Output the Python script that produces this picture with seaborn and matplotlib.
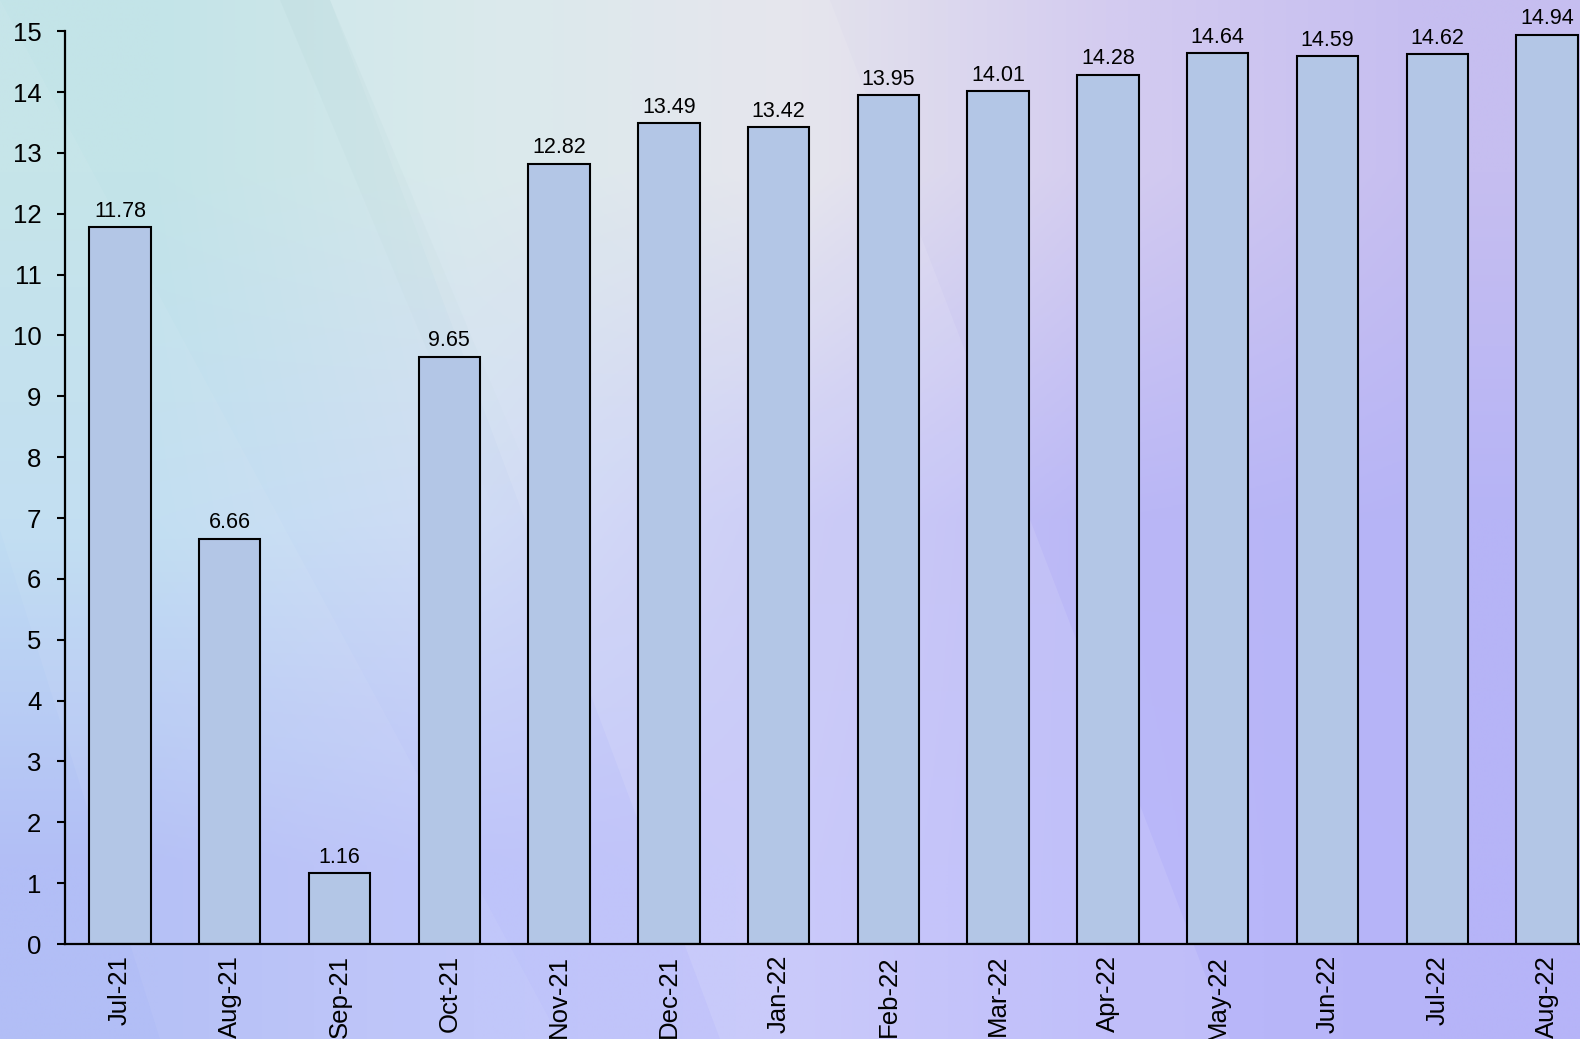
import numpy as np
import pandas as pd
import matplotlib
matplotlib.use("Agg")
import matplotlib.pyplot as plt
import seaborn as sns
from matplotlib.patches import Polygon

# Monthly values
months = ["Jul-21", "Aug-21", "Sep-21", "Oct-21", "Nov-21", "Dec-21", "Jan-22",
          "Feb-22", "Mar-22", "Apr-22", "May-22", "Jun-22", "Jul-22", "Aug-22"]
values = [11.78, 6.66, 1.16, 9.65, 12.82, 13.49, 13.42,
          13.95, 14.01, 14.28, 14.64, 14.59, 14.62, 14.94]
y_ticks = list(range(0, 16))

sns.set_theme(style="white")
plt.rcParams["font.family"] = ["Liberation Sans", "DejaVu Sans"]

W, H = 1580, 1039
fig = plt.figure(figsize=(W / 100, H / 100), dpi=100)

# ---- soft gradient backdrop -------------------------------------------
bg = fig.add_axes([0, 0, 1, 1], zorder=0)
grid = np.array([
    [(195, 228, 232), (214, 232, 234), (228, 228, 236), (212, 204, 240), (198, 190, 240)],
    [(192, 222, 242), (208, 220, 245), (200, 200, 246), (186, 183, 246), (182, 180, 246)],
    [(178, 190, 246), (190, 196, 250), (196, 196, 250), (186, 184, 250), (182, 180, 248)],
], dtype=float) / 255.0
bg.imshow(grid, extent=(0, W, H, 0), aspect="auto", interpolation="bilinear")
bg.set_xlim(0, W)
bg.set_ylim(H, 0)

def band(pts, color, alpha):
    bg.add_patch(Polygon(pts, closed=True, facecolor=color, edgecolor="none", alpha=alpha))

band([(330, 0), (830, 0), (1230, H), (720, H)], "white", 0.10)
band([(0, 530), (160, H), (560, H), (0, 0)], "white", 0.06)

# faint grey-teal streak that fades out downwards
slope = 0.42
for k in range(10):
    y0 = k * 50
    y1 = y0 + 50
    a = 0.075 * (1 - k / 10)
    band([(280 + slope * y0, y0), (330 + slope * y0, y0),
          (330 + slope * y1, y1), (280 + slope * y1, y1)], (0.55, 0.72, 0.72), a)
bg.axis("off")

# ---- bar chart ----------------------------------------------------------
ax = fig.add_axes([65 / W, 95 / H, 1537 / W, 912.8 / H], zorder=1)
ax.patch.set_alpha(0)
df = pd.DataFrame({"month": months, "value": values})
sns.barplot(data=df, x="month", y="value", color="#b3c6e6", saturation=1,
            edgecolor="black", linewidth=1.5, width=0.56, ax=ax)

ax.set_xlim(-0.5, len(months) - 0.5)
ax.set_ylim(0, 15)
ax.set_yticks(y_ticks)
ax.set_xlabel("")
ax.set_ylabel("")

for c in ax.containers:
    ax.bar_label(c, labels=[f"{v:.2f}" for v in values], padding=4,
                 fontsize=15.5, color="black")

for side in ("top", "right"):
    ax.spines[side].set_visible(False)
for side in ("left", "bottom"):
    ax.spines[side].set_color("black")
    ax.spines[side].set_linewidth(1.6)

ax.tick_params(axis="y", which="major", direction="out", length=6, width=1.5,
               color="black", labelcolor="black", pad=11, labelsize=18.5, left=True)
ax.tick_params(axis="x", which="major", length=0, pad=8, labelsize=18.5,
               labelcolor="black", rotation=90, bottom=True)

fig.savefig("out.png", dpi=100)
